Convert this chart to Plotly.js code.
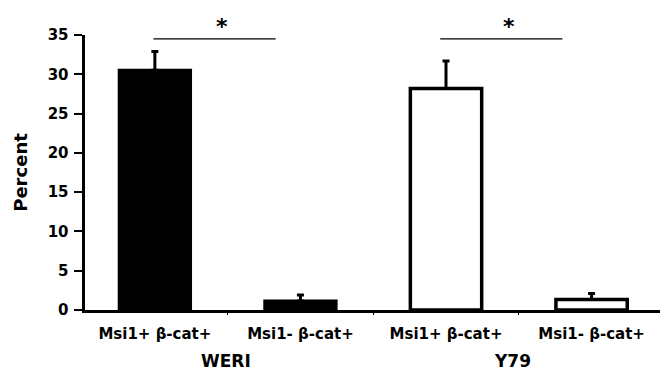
<!DOCTYPE html>
<html>
<head>
<meta charset="utf-8">
<script src="https://cdn.plot.ly/plotly-3.0.1.min.js"></script>
<style>html,body{margin:0;padding:0;background:#fff;}#chart{width:665px;height:386px;}</style>
</head>
<body>
<div id="chart"></div>
<script>
const categoryLabels = ["Msi1+ β-cat+", "Msi1- β-cat+", "Msi1+ β-cat+", "Msi1- β-cat+"];
const categoryPos = [0, 1, 2, 3];
const groups = ["WERI", "Y79"];
const groupPos = [0.49, 2.46];
const weriValues = [30.5, 1.15];
const weriErrors = [2.4, 0.75];
const y79Values = [28.2, 1.35];
const y79Errors = [3.5, 0.75];
const yTicks = [0, 5, 10, 15, 20, 25, 30, 35];
const sigLines = [[-0.01, 0.83], [1.96, 2.8]];
const sigStarX = [0.46, 2.43];

const font = {family: "DejaVu Sans, Arial, sans-serif", color: "#000", weight: "bold"};
const f = s => Object.assign({}, font, {size: s});

const traces = [
  {
    type: "bar", x: categoryPos.slice(0, 2), y: weriValues, width: 0.49,
    marker: {color: "#000", line: {color: "#000", width: 3}},
    error_y: {type: "data", array: weriErrors, arrayminus: [0, 0], color: "#000", thickness: 3, width: 3.5},
    showlegend: false, hoverinfo: "skip"
  },
  {
    type: "bar", x: categoryPos.slice(2, 4), y: y79Values, width: 0.49,
    marker: {color: "#fff", line: {color: "#000", width: 3.5}},
    error_y: {type: "data", array: y79Errors, arrayminus: [0, 0], color: "#000", thickness: 3, width: 3.5},
    showlegend: false, hoverinfo: "skip"
  },
  {type: "scatter", x: [0], y: [0], xaxis: "x2", mode: "none", showlegend: false, hoverinfo: "skip"}
];

const shapes = sigLines.map(l => ({
  type: "line", xref: "x", yref: "y", x0: l[0], x1: l[1], y0: 34.5, y1: 34.5,
  line: {color: "#000", width: 1.3}
}));

const annotations = [];
sigStarX.forEach(x => annotations.push({
  x: x, y: 1.032, xref: "x", yref: "paper", yanchor: "middle", text: "*", showarrow: false,
  font: f(22)
}));
groups.forEach((g, i) => annotations.push({
  x: groupPos[i], y: -0.184, xref: "x", yref: "paper", yanchor: "middle", text: g, showarrow: false,
  font: f(17)
}));

const layout = {
  width: 665, height: 386,
  margin: {l: 85, r: 5, t: 35, b: 76},
  paper_bgcolor: "#fff", plot_bgcolor: "#fff",
  font: font,
  xaxis: {
    range: [-0.48, 3.47], tickvals: categoryPos, ticktext: categoryLabels,
    showline: true, linewidth: 3, linecolor: "#000", ticks: "",
    showgrid: false, zeroline: false, tickfont: f(15),
    ticklabelstandoff: 8
  },
  xaxis2: {
    overlaying: "x", matches: "x", range: [-0.48, 3.47], tickvals: [0.5, 1.5, 2.5],
    ticks: "outside", ticklen: 4, tickwidth: 1, tickcolor: "#000", showticklabels: false,
    showgrid: false, zeroline: false, showline: false, anchor: "y"
  },
  yaxis: {
    range: [0, 35], tickvals: yTicks, showline: true, linewidth: 3.5, linecolor: "#000",
    ticks: "outside", ticklen: 8, tickwidth: 2, tickcolor: "#000",
    showgrid: false, zeroline: false, tickfont: f(15), ticklabelstandoff: 2,
    title: {text: "Percent", font: f(18), standoff: 16}
  },
  shapes: shapes, annotations: annotations
};

Plotly.newPlot("chart", traces, layout, {staticPlot: true});
</script>
</body>
</html>
